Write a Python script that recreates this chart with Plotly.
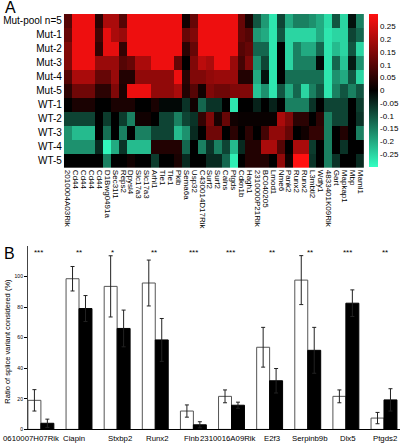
import plotly.graph_objects as go

# ---------------- Panel A data ----------------
row_labels = ["Mut-pool n=5", "Mut-1", "Mut-2", "Mut-3", "Mut-4", "Mut-5",
              "WT-1", "WT-2", "WT-3", "WT-4", "WT-5"]
col_labels = ["2010004A03Rik", "Cd44", "Cd44", "Cd44", "Cd44", "D1Bwg0491a", "Sec31l1",
              "Reps2", "Dpysl4", "Slc17a3", "Slc17a3", "Arhl1", "Tle1", "Tle1", "Pkib",
              "Sema6a", "Usp32", "C430014D17Rik", "Surf2", "Surf2", "Calns", "Ptgds",
              "Cdkn1b", "Hagh1", "2310000P21Rik", "BC040205", "Lmod1", "Nme6", "Pank2",
              "Runx2", "Runx2", "L3mbtl2", "Wdfy1", "4833401K09Rik", "Gart", "Mapkap1",
              "Mbp", "Maml1"]
mut_pool = [.10, .28, .28, .28, .05, .20, .20, .10, .28, .28, .28, .28, .28, .28, .28, .02, .12, .28, .28,
            .28, .28, .28, .12, .03, -.10, -.18, -.27, -.08, -.20, -.15, -.15, -.17, -.20, -.26, -.10, -.25, -.02, -.15]
mut_1 = [.12, .28, .28, .28, .08, .27, .20, .18, .28, .28, .28, .28, .28, .28, .28, .12, .15, .28, .28,
         .28, .28, .28, .12, .10, -.18, -.20, -.27, -.10, -.25, -.25, -.25, -.25, -.20, -.27, -.25, -.25, -.08, -.12]
mut_2 = [.15, .28, .28, .28, .06, .27, .27, .06, .28, .28, .28, .28, .28, .28, .28, .05, .12, .28, .28,
         .28, .28, .28, .10, .12, -.12, -.12, -.27, .00, -.25, -.15, -.20, -.20, -.12, -.27, -.22, -.25, -.10, -.25]
mut_3 = [.15, .28, .28, .28, .18, .18, .18, .10, .12, .20, .20, .28, .28, .28, .12, .00, .15, .22, .20,
         .28, .28, .18, .08, .15, -.17, -.08, -.27, .00, -.25, -.15, -.15, -.15, -.01, -.27, -.12, -.23, -.03, -.17]
mut_4 = [.10, .20, .20, .20, .12, .12, .18, .04, .04, .17, .17, .17, .17, .17, .28, .05, .15, .15, .17,
         .18, .18, .18, .04, .04, -.20, -.02, -.27, .00, -.13, -.13, -.13, -.13, -.13, -.27, -.17, -.20, -.10, -.25]
mut_5 = [.05, .13, .13, .13, .05, .05, .15, .03, .28, .28, .28, .17, .17, .17, .20, .04, .10, .02, .15,
         .13, .13, .15, .15, .15, -.23, -.17, -.27, -.10, -.20, -.12, -.25, -.15, -.10, -.27, -.15, -.10, -.15, -.10]
wt_1 = [.00, .03, .03, .03, .00, .00, .03, .03, .03, .00, .00, .03, -.01, -.01, -.01, -.06, .02, -.12, -.06,
        -.06, .00, -.27, .00, .00, -.04, .00, -.04, .00, -.15, -.15, -.15, -.06, .00, -.08, -.08, -.08, .00, -.07]
wt_2 = [-.08, -.08, -.08, -.08, .00, -.07, .00, -.07, -.15, .02, .02, .00, -.08, -.08, -.15, -.08, -.06, .06, .15,
        .03, .12, .02, .01, .01, .01, .01, .01, .20, .15, .05, .05, .00, .05, -.15, -.08, -.08, .00, -.06]
wt_3 = [-.17, -.22, -.22, -.22, .00, -.13, .00, -.15, .00, -.15, -.15, -.08, -.08, -.08, -.22, -.17, -.05, .00, .13,
        .13, .00, .05, .00, .05, .00, .08, .17, .17, .12, .00, .02, .06, .06, -.15, .00, .04, .00, -.15]
wt_4 = [-.17, -.17, -.17, -.17, -.05, -.29, -.20, -.06, -.22, -.22, -.22, .04, .04, .04, .04, -.12, .00, -.15, -.06,
        -.15, -.08, -.22, -.05, .04, .04, .20, .20, .10, .00, .20, .20, -.07, .00, -.15, .00, -.06, .00, .00]
wt_5 = [.00, .00, .00, .00, .00, -.15, .00, .00, .02, .00, .00, -.07, .00, .00, .03, -.05, .00, .00, -.05,
        -.05, -.12, -.28, .00, .04, .04, .04, .00, .17, .02, .30, .30, -.06, .00, -.15, -.06, .00, .00, -.05]
cbar_vals = [0.25, 0.2, 0.15, 0.1, 0.05, 0, -0.05, -0.1, -0.15, -0.2, -0.25]
cbar_text = ["0.25", "0.2", "0.15", "0.1", "0.05", "0", "-0.05", "-0.1", "-0.15", "-0.2", "-0.25"]

# ---------------- Panel B data ----------------
genes = ["0610007H07Rik", "Ciapin", "Stxbp2", "Runx2", "Flnb", "2310016A09Rik",
         "E2f3", "Serpinb9b", "Dlx5", "Ptgds2"]
white_vals = [19, 98.5, 93.5, 95.7, 12, 21.6, 53.7, 97.6, 21.6, 7.4]
white_err = [7, 8, 20, 15, 4, 4.2, 13, 16, 4.2, 3.7]
black_vals = [4, 79, 66, 58.5, 3, 15.8, 31.8, 51.7, 82.5, 19.3]
black_err = [2.7, 8.5, 12, 14, 2, 2, 8, 15, 8.7, 7.3]
stars = ["***", "**", "*", "**", "***", "***", "**", "**", "***", "**"]
y_ticks = [0, 20, 40, 60, 80, 100]

FONT = "Arial, Liberation Sans, Helvetica, sans-serif"
W, H = 400, 447

def px(x):
    return x / W

def py(y):
    return 1 - y / H

z = [mut_pool, mut_1, mut_2, mut_3, mut_4, mut_5, wt_1, wt_2, wt_3, wt_4, wt_5]

fig = go.Figure()
fig.add_trace(go.Heatmap(
    z=z, x=list(range(len(col_labels))), y=list(range(len(row_labels))),
    zmin=-0.3, zmax=0.3,
    colorscale=[[0, "#33FFC2"], [0.5, "#000000"], [1, "#FF1010"]],
    xaxis="x", yaxis="y",
    colorbar=dict(x=px(369), xanchor="left", y=py(91), yanchor="middle",
                  len=154 / H, lenmode="fraction", thickness=9, thicknessmode="pixels",
                  outlinewidth=0, tickvals=cbar_vals, ticktext=cbar_text,
                  ticks="", ticklabelposition="outside",
                  tickfont=dict(family=FONT, size=8, color="black"),
                  ypad=0, xpad=0),
))

fig.add_trace(go.Bar(
    x=list(range(len(genes))), y=white_vals, xaxis="x2", yaxis="y2",
    marker=dict(color="white", line=dict(color="#555555", width=1)),
    error_y=dict(type="data", array=white_err, color="#222222", thickness=1, width=2),
    offsetgroup="w", showlegend=False,
))
fig.add_trace(go.Bar(
    x=list(range(len(genes))), y=black_vals, xaxis="x2", yaxis="y2",
    marker=dict(color="black", line=dict(color="black", width=1)),
    error_y=dict(type="data", array=black_err, color="#222222", thickness=1, width=2),
    offsetgroup="b", showlegend=False,
))

annotations = [
    dict(text="A", x=px(2), y=py(-3), xref="paper", yref="paper", xanchor="left",
         yanchor="top", showarrow=False, font=dict(family=FONT, size=16, color="black")),
    dict(text="B", x=px(1), y=py(245), xref="paper", yref="paper", xanchor="left",
         yanchor="top", showarrow=False, font=dict(family=FONT, size=16, color="black")),
    dict(text="Ratio of splice variant considered (%)", x=px(7), y=py(343),
         xref="paper", yref="paper", textangle=-90, showarrow=False,
         xanchor="center", yanchor="middle",
         font=dict(family=FONT, size=7.5, color="black")),
]
star_x = [38, 78, 112, 153, 193, 230, 272, 310, 347, 385]
for s, sx in zip(stars, star_x):
    annotations.append(dict(text=s, x=px(sx), y=py(254), xref="paper", yref="paper",
                            xanchor="center", yanchor="middle",
                            showarrow=False, font=dict(family=FONT, size=8, color="black")))
label_x = [30, 73, 119.5, 157, 191, 228, 272, 310, 347.5, 385]
for g, lx in zip(genes, label_x):
    annotations.append(dict(text=g, x=px(lx), y=py(441), xref="paper", yref="paper",
                            xanchor="center", yanchor="middle",
                            showarrow=False, font=dict(family=FONT, size=7.8, color="black")))

fig.update_layout(
    width=W, height=H, margin=dict(l=0, r=0, t=0, b=0),
    paper_bgcolor="white", plot_bgcolor="white",
    font=dict(family=FONT, color="black"),
    xaxis=dict(domain=[px(63), px(364)], range=[-0.5, len(col_labels) - 0.5],
               tickvals=list(range(len(col_labels))), ticktext=col_labels,
               tickangle=90, ticks="", showgrid=False, zeroline=False,
               tickfont=dict(family=FONT, size=8, color="black"), ticklabelstandoff=1),
    yaxis=dict(domain=[py(169), py(14)], range=[len(row_labels) - 0.5, -0.5],
               tickvals=list(range(len(row_labels))), ticktext=row_labels,
               ticks="", showgrid=False, zeroline=False,
               tickfont=dict(family=FONT, size=10, color="black"), ticklabelstandoff=1),
    xaxis2=dict(domain=[px(27), 1.0], range=[-0.34, 9.42], showticklabels=False,
                ticks="", showgrid=False, zeroline=False, showline=True,
                linecolor="black", linewidth=1, anchor="y2"),
    yaxis2=dict(domain=[py(432.3), py(247.5)], range=[0, 120], tickvals=y_ticks,
                ticks="outside", ticklen=3, tickcolor="black", showgrid=False,
                zeroline=False, showline=True, linecolor="#444444", linewidth=1,
                tickfont=dict(family=FONT, size=5, color="black"), anchor="x2"),
    barmode="group", bargap=0.32, bargroupgap=0,
    annotations=annotations,
)

fig.write_html("out.html", config={"displayModeBar": False},
               post_script="document.body.style.margin='0';document.body.style.padding='0';")
